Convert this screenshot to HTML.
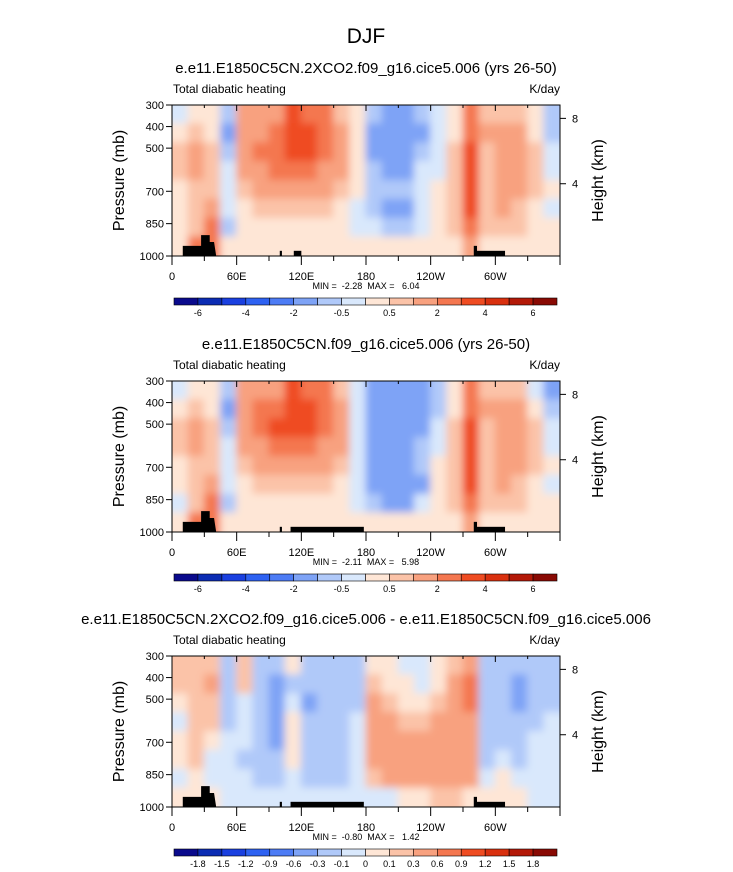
<!DOCTYPE html>
<html><head><meta charset="utf-8"><style>
body{margin:0;background:#fff}
svg{display:block;font-family:"Liberation Sans",Arial,sans-serif}
text{white-space:pre}
</style></head><body>
<svg id="fig" width="733" height="872" viewBox="0 0 733 872" xmlns="http://www.w3.org/2000/svg">
<defs><filter id="bl" filterUnits="userSpaceOnUse" x="0" y="0" width="733" height="872"><feGaussianBlur stdDeviation="4" edgeMode="duplicate"/></filter></defs>
<text x="366" y="43" font-size="21" text-anchor="middle">DJF</text>
</svg>
<script>
const colors=["#0a0a8c","#0b2cb3","#1a40e0","#2e62f2","#4d7cf5","#7ea3f6","#b0c9f9","#d9e8fc","#fee6d6","#fbc3a8","#f8a17f","#f47750","#ef4c22","#d9300f","#b31908","#890a04"];
const levels1=[-6,-5,-4,-3,-2,-1,-0.5,0,0.5,1,2,3,4,5,6];
const levels3=[-1.8,-1.5,-1.2,-0.9,-0.6,-0.3,-0.1,0,0.1,0.3,0.6,0.9,1.2,1.5,1.8];
const labels1=["","-6","","-4","","-2","","-0.5","","0.5","","2","","4","","6"];
const labels3=["","-1.8","-1.5","-1.2","-0.9","-0.6","-0.3","-0.1","0","0.1","0.3","0.6","0.9","1.2","1.5","1.8"];
const lons=[0,15,30,45,60,75,90,105,120,135,150,165,180,195,210,225,240,255,270,285,300,315,330,345];
const pres=[300,387,475,562,650,737,825,912];
const xTickLabels=["0","60E","120E","180","120W","60W"];
const xTickVals=[0,60,120,180,240,300];
const pTicks=[300,400,500,700,850,1000];
const hTicks=[8,4];
const hTickP=[362,665];
const field1=[
[-0.3,0.3,0.8,0.8,0.3,0.3,0.3,0.3],[0.3,0.7,1.5,1.5,0.8,0.7,0.8,2.5],[0.3,0.3,0.8,0.8,0.8,1.5,2.5,2.5],[-0.7,-1.2,-0.7,-0.3,-0.3,-0.3,-0.7,0.3],
[1,1.5,1.5,1.5,0.8,0.3,0.3,0.3],[1,1.5,2.5,1.5,1.5,0.7,0.3,0.3],[1.5,2,2.5,2.5,1.5,0.8,0.3,0.3],[3,3.5,3.5,2.5,1.5,0.8,0.3,0.3],
[2.5,3,3.5,2.5,1.5,0.7,0.3,0.3],[2,2.5,2.5,1.5,1.2,0.7,0.3,0.3],[0.8,1.2,1.5,1.2,0.8,0.3,0.3,0.3],[0.3,0.3,0.3,0.3,0.3,-0.3,-0.3,0.3],
[-0.7,-1.2,-1.2,-0.7,-0.7,-0.7,-0.3,0.3],[-1.2,-1.3,-1.3,-1.2,-0.7,-1.2,-0.7,0.3],[-1.2,-1.3,-1.3,-1.2,-0.7,-1.2,-0.7,0.3],[-0.7,-1.2,-0.7,-0.3,-0.3,-0.3,-0.3,0.3],
[-0.3,-0.3,-0.3,-0.3,0.3,0.3,0.3,0.3],[0.3,0.3,0.7,0.8,0.8,0.8,0.8,0.3],[2,2.5,3,3,3,3,2,1],[0.8,1.2,0.8,0.8,0.8,0.8,0.5,0.3],
[0.8,1.2,1,1,1.2,1.5,0.8,0.3],[0.7,1,1.2,1.2,1.2,0.8,0.5,0.3],[0.3,0.3,0.5,0.7,0.5,0.3,0.3,0.3],[-0.8,-0.7,-0.3,-0.3,0.3,-0.3,0.3,0.3]];
const field2=[
[-0.3,0.3,0.7,0.7,0.3,0.3,-0.3,0.3],[0.3,0.7,1.5,1.5,0.8,0.7,0.8,2.5],[0.3,0.3,0.8,0.8,0.8,1.5,2.5,2.5],[-0.7,-1.2,-0.7,-0.3,-0.3,-0.3,-0.7,0.3],
[1,1.5,1.5,1.5,0.8,0.3,0.3,0.3],[1.2,2,2.5,1.5,1.5,0.7,0.3,0.3],[1.5,2.5,3,2.5,1.5,0.8,0.3,0.3],[3,3.5,3.5,2.5,1.5,0.8,0.3,0.3],
[2.5,3,3.5,2.5,1.5,0.7,0.3,0.3],[2,2.5,2.5,1.5,1.2,0.7,0.3,0.3],[0.8,1.2,1.5,1.2,0.8,0.3,0.3,0.3],[-0.3,-0.3,-0.3,-0.3,-0.3,-0.3,-0.3,0.3],
[-1.2,-1.3,-1.3,-1.2,-1.2,-1.2,-0.7,0.3],[-1.3,-1.3,-1.3,-1.3,-1.3,-1.3,-1.2,0.3],[-1.3,-1.3,-1.3,-1.3,-1.3,-1.3,-1.2,0.3],[-1.2,-1.3,-1.2,-0.7,-0.7,-1.2,-0.3,0.3],
[-0.7,-0.7,-0.3,-0.3,0.3,0.3,0.3,0.3],[0.3,0.3,0.7,0.8,0.8,0.8,0.8,0.3],[2,2.5,3,3,3,3,2,1],[0.8,1.2,0.8,0.8,0.8,0.8,0.5,0.3],
[0.8,1.2,1,1,1.2,1.5,0.8,0.3],[0.7,1,1.2,1.2,1.2,0.8,0.5,0.3],[-0.3,0.3,0.5,0.7,0.5,0.3,0.3,0.3],[-1.2,-0.7,-0.3,-0.3,0.3,-0.3,0.3,0.3]];
const field3=[
[0.2,0.2,0.05,-0.05,0.05,0.05,-0.05,0.05],[0.2,0.2,0.15,0.2,0.2,0.1,0.05,0.05],[0.2,0.3,0.2,0.2,0.05,-0.05,-0.05,0.05],[-0.2,-0.2,-0.2,-0.2,-0.05,-0.05,-0.05,-0.05],
[0.2,0.1,-0.05,-0.05,-0.1,-0.2,-0.05,-0.05],[-0.2,-0.3,-0.2,-0.2,-0.2,-0.2,-0.15,-0.05],[-0.2,-0.4,-0.4,-0.4,-0.4,-0.2,-0.2,-0.05],[0.05,-0.2,-0.05,0.05,0.05,0.05,-0.05,-0.05],
[-0.2,-0.3,-0.4,-0.3,-0.2,-0.2,-0.2,-0.05],[-0.15,-0.2,-0.2,-0.2,-0.2,-0.2,-0.2,-0.05],[-0.2,-0.2,-0.2,-0.2,-0.15,-0.2,-0.2,-0.05],[-0.3,-0.2,-0.2,-0.05,-0.05,-0.05,-0.05,-0.05],
[0.05,0.2,0.4,0.4,0.4,0.4,0.2,-0.05],[0.05,0.05,0.2,0.4,0.4,0.5,0.5,-0.05],[-0.05,0.05,0.05,0.2,0.4,0.5,0.4,0.05],[-0.05,-0.05,0.05,0.2,0.4,0.5,0.5,0.05],
[0.05,0.05,0.2,0.4,0.4,0.4,0.4,0.2],[0.2,0.3,0.4,0.4,0.4,0.4,0.4,0.2],[0.5,0.7,0.7,0.4,0.4,0.4,0.3,0.05],[-0.15,-0.2,-0.2,-0.2,-0.2,-0.2,-0.05,0.05],
[-0.2,-0.2,-0.2,-0.2,-0.15,-0.05,0.05,0.05],[-0.2,-0.4,-0.4,-0.2,-0.2,-0.15,-0.05,0.05],[-0.2,-0.2,-0.2,-0.2,-0.05,-0.05,-0.05,-0.05],[-0.2,-0.2,-0.15,-0.05,-0.05,-0.05,-0.05,-0.05]];
const terrainA=[[10,953],[27,953],[27,903],[35,903],[35,935],[39,935],[41,1000]];
const panels=[
 {sub:"e.e11.E1850C5CN.2XCO2.f09_g16.cice5.006 (yrs 26-50)",f:field1,lv:levels1,lb:labels1,mm:"MIN =  -2.28  MAX =   6.04",blocks:[[100,102,976],[113,120,976],[280,283,953],[283,309,976]]},
 {sub:"e.e11.E1850C5CN.f09_g16.cice5.006 (yrs 26-50)",f:field2,lv:levels1,lb:labels1,mm:"MIN =  -2.11  MAX =   5.98",blocks:[[100,102,976],[110,178,976],[280,283,953],[283,309,976]]},
 {sub:"e.e11.E1850C5CN.2XCO2.f09_g16.cice5.006 - e.e11.E1850C5CN.f09_g16.cice5.006",f:field3,lv:levels3,lb:labels3,mm:"MIN =  -0.80  MAX =   1.42",blocks:[[100,102,976],[110,178,976],[280,283,953],[283,309,976]]}];
const NS="http://www.w3.org/2000/svg";
const svg=document.getElementById('fig');
function mk(tag,at,parent){const e=document.createElementNS(NS,tag);for(const k in at)e.setAttribute(k,at[k]);(parent||svg).appendChild(e);return e;}
const X0=172,X1=560;
function xs(l){return X0+(l/360)*(X1-X0);}
function colorOf(v,lv){let i=0;while(i<lv.length&&v>=lv[i])i++;return colors[i];}
panels.forEach((P,pi)=>{
 const off=[0,276,551][pi];
 const Y0=105+off,Y1=256+off;
 const ys=p=>Y0+(p-300)/700*(Y1-Y0);
 const t=mk('text',{x:366,y:73+off,'font-size':15,'text-anchor':'middle'});t.textContent=P.sub;
 
 
 const l=mk('text',{x:173,y:93+off,'font-size':12});l.textContent="Total diabatic heating";
 
 
 const r=mk('text',{x:560,y:93+off,'font-size':12,'text-anchor':'end'});r.textContent="K/day";
 
 
 const cp=mk('clipPath',{id:'cp'+pi});mk('rect',{x:X0,y:Y0,width:X1-X0,height:Y1-Y0},cp);
 const outer=mk('g',{'clip-path':'url(#cp'+pi+')'});
 
 
 const g=mk('g',{filter:'url(#bl)'},outer);
 mk('rect',{x:X0-20,y:Y0-20,width:X1-X0+40,height:Y1-Y0+40,fill:colors[8]},g);
 P.f.forEach((col,ci)=>{col.forEach((v,ri)=>{
  let x=xs(lons[ci]),w=xs(lons[ci]+15)-x;let y=ys(pres[ri]);let h=ys(pres[ri]+87.5)-y;
  if(ci==0){x-=12;w+=12;} if(ci==23){w+=12;} if(ri==0){y-=12;h+=12;} if(ri==7){h+=12;}
  const c=mk('rect',{x:x-0.5,y:y-0.5,width:w+1,height:h+1,fill:colorOf(v,P.lv)},g);
  
  
 });});
 let pts=[[xs(10),ys(1000)]];terrainA.forEach(a=>pts.push([xs(a[0]),ys(a[1])]));
 const tp=mk('polygon',{points:pts.map(p=>p.join(',')).join(' '),fill:'#000'},outer);
 
 
 P.blocks.forEach(b=>{const e=mk('rect',{x:xs(b[0]),y:ys(b[2]),width:xs(b[1])-xs(b[0]),height:ys(1000)-ys(b[2])+1,fill:'#000'},outer);
  
  });
 const fr=mk('rect',{x:X0,y:Y0,width:X1-X0,height:Y1-Y0,fill:'none',stroke:'#000','stroke-width':1});
 
 
 for(let lo=0;lo<=360;lo+=30){const x=xs(lo);const maj=lo%60==0;
  mk('line',{x1:x,x2:x,y1:Y1,y2:Y1+(maj?9:5),stroke:'#000'});mk('line',{x1:x,x2:x,y1:Y0,y2:Y0+(maj?6:3),stroke:'#000'});}
 xTickVals.forEach((v,i)=>{const e=mk('text',{x:xs(v),y:280+off,'font-size':11,'text-anchor':'middle'});e.textContent=xTickLabels[i];
  
  });
 pTicks.forEach(p=>{const y=ys(p);mk('line',{x1:X0-6,x2:X0,y1:y,y2:y,stroke:'#000'});
  const e=mk('text',{x:X0-8,y:y+4,'font-size':11,'text-anchor':'end'});e.textContent=p;
  
  });
 hTicks.forEach((h,i)=>{const y=ys(hTickP[i]);
  mk('line',{x1:X1,x2:X1+6,y1:y,y2:y,stroke:'#000'});
  const e=mk('text',{x:X1+12,y:y+4,'font-size':11});e.textContent=h;
  
  });
 const yl=mk('text',{x:0,y:0,'font-size':16,'text-anchor':'middle',transform:`translate(124,${(Y0+Y1)/2}) rotate(-90)`});yl.textContent="Pressure (mb)";
 
 
 const yr=mk('text',{x:0,y:0,'font-size':16,'text-anchor':'middle',transform:`translate(603,${(Y0+Y1)/2}) rotate(-90)`});yr.textContent="Height (km)";
 
 
 const mm=mk('text',{x:366,y:289+off,'font-size':9,'text-anchor':'middle'});mm.textContent=P.mm;
 
 
 const bw=(557-174)/16;
 colors.forEach((c,i)=>{const e=mk('rect',{x:174+i*bw,y:298+off,width:bw,height:7,fill:c,stroke:'#000','stroke-width':0.6});
  
  });
 P.lb.forEach((s,i)=>{if(!s)return;const e=mk('text',{x:174+i*bw,y:316+off,'font-size':9,'text-anchor':'middle'});e.textContent=s;
  
  });
});
</script>
</body></html>
